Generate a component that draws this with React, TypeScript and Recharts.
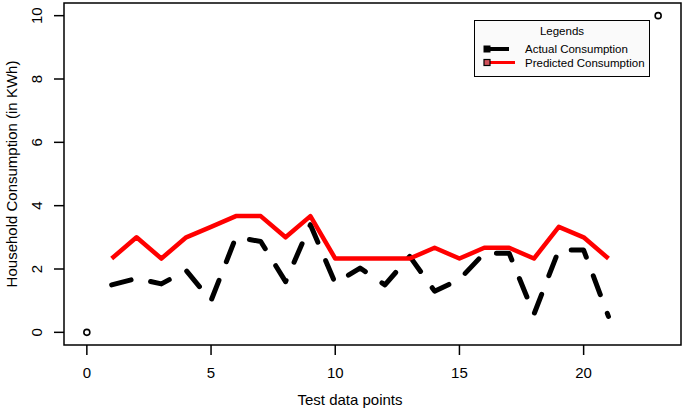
import React from 'react';
import {
  ComposedChart,
  Line,
  Scatter,
  XAxis,
  YAxis,
  ReferenceArea,
} from 'recharts';

// test set indices and kWh readings
const testPoints = [1, 2, 3, 4, 5, 6, 7, 8, 9, 10, 11, 12, 13, 14, 15, 16, 17, 18, 19, 20, 21];
const actualConsumption = [
  1.5, 1.7, 1.53, 1.95, 1.0, 3.0, 2.87, 1.6, 3.4, 1.55, 2.03, 1.5, 2.4, 1.3, 1.67, 2.5, 2.5,
  0.57, 2.6, 2.6, 0.5,
];
const predictedConsumption = [
  2.33, 3.0, 2.33, 3.0, 3.33, 3.67, 3.67, 3.0, 3.67, 2.33, 2.33, 2.33, 2.33, 2.67, 2.33, 2.67,
  2.67, 2.33, 3.33, 3.0, 2.33,
];
// the two corner points plotted as open circles
const cornerX = [0, 23];
const cornerY = [0, 10];

const xTicks = [0, 5, 10, 15, 20];
const yTicks = [0, 2, 4, 6, 8, 10];

const FONT = '"Liberation Sans", Arial, sans-serif';

const lineData = testPoints.map((x, i) => ({
  x,
  actual: actualConsumption[i],
  predicted: predictedConsumption[i],
}));
const cornerData = cornerX.map((x, i) => ({ x, y: cornerY[i] }));

const XTick = ({ x, y, payload }: any) => (
  <text x={x} y={y + 23} textAnchor="middle" fontSize={15} fontFamily={FONT} fill="#000">
    {payload.value}
  </text>
);

const YTick = ({ x, y, payload }: any) => (
  <text
    x={x - 12}
    y={y}
    transform={`rotate(-90, ${x - 12}, ${y})`}
    textAnchor="middle"
    fontSize={15}
    fontFamily={FONT}
    fill="#000"
  >
    {payload.value}
  </text>
);

const OpenCircle = ({ cx, cy }: any) => (
  <circle cx={cx} cy={cy} r={3} fill="none" stroke="#000" strokeWidth={1.6} />
);

function LegendBox() {
  return (
    <div
      style={{
        position: 'absolute',
        left: 474,
        top: 20,
        width: 176,
        height: 57,
        boxSizing: 'border-box',
        border: '1.5px solid #000',
        background: '#fafafa',
        fontFamily: FONT,
        fontSize: 11.5,
        color: '#000',
      }}
    >
      <svg width={176} height={57} style={{ position: 'absolute', left: -1.5, top: -1.5 }}>
        <text x={88} y={15} textAnchor="middle" fontSize={11.5} fontFamily={FONT}>
          Legends
        </text>
        <line x1={12} y1={29} x2={35} y2={29} stroke="#000" strokeWidth={4} />
        <rect x={10} y={26} width={6} height={6} fill="#000" stroke="#000" strokeWidth={1} />
        <text x={51} y={33} fontSize={11.5} fontFamily={FONT}>
          Actual Consumption
        </text>
        <line x1={16} y1={42.5} x2={41} y2={42.5} stroke="#ff0000" strokeWidth={3} />
        <rect x={10} y={39.5} width={6} height={6} fill="#d0505a" stroke="#000" strokeWidth={1.2} />
        <text x={51} y={46.5} fontSize={11.5} fontFamily={FONT}>
          Predicted Consumption
        </text>
      </svg>
    </div>
  );
}

export default function App() {
  return (
    <div style={{ position: 'absolute', left: 0, top: 0, width: 685, height: 411, background: '#fff' }}>
      <ComposedChart
        width={685}
        height={411}
        data={lineData}
        margin={{ top: 3, right: 4, bottom: 0, left: 0 }}
      >
        <XAxis
          type="number"
          dataKey="x"
          domain={[-0.92, 23.92]}
          ticks={xTicks}
          height={66}
          axisLine={false}
          tickSize={10}
          tickMargin={0}
          tickLine={{ stroke: '#000', strokeWidth: 1.5 }}
          tick={<XTick />}
          interval={0}
          allowDataOverflow
          label={{
            content: () => (
              <text x={350} y={405} textAnchor="middle" fontSize={15} fontFamily={FONT} fill="#000">
                Test data points
              </text>
            ),
          }}
        />
        <YAxis
          type="number"
          domain={[-0.4, 10.4]}
          ticks={yTicks}
          width={64}
          axisLine={false}
          tickSize={10}
          tickMargin={0}
          tickLine={{ stroke: '#000', strokeWidth: 1.5 }}
          tick={<YTick />}
          interval={0}
          allowDataOverflow
          label={{
            content: () => (
              <text
                x={17}
                y={174}
                transform="rotate(-90, 17, 174)"
                textAnchor="middle"
                fontSize={15}
                fontFamily={FONT}
                fill="#000"
              >
                Household Consumption (in KWh)
              </text>
            ),
          }}
        />
        <ReferenceArea
          x1={-0.92}
          x2={23.92}
          y1={-0.4}
          y2={10.4}
          fill="none"
          stroke="#000"
          strokeWidth={1.5}
          strokeOpacity={1}
          ifOverflow="visible"
        />
        <Scatter data={cornerData} dataKey="y" shape={<OpenCircle />} isAnimationActive={false} />
        <Line
          type="linear"
          dataKey="actual"
          stroke="#000"
          strokeWidth={5}
          strokeDasharray="20 20"
          strokeLinecap="round"
          strokeLinejoin="round"
          dot={false}
          activeDot={false}
          isAnimationActive={false}
        />
        <Line
          type="linear"
          dataKey="predicted"
          stroke="#ff0000"
          strokeWidth={4.5}
          strokeLinejoin="round"
          dot={false}
          activeDot={false}
          isAnimationActive={false}
        />
      </ComposedChart>
      <LegendBox />
    </div>
  );
}
